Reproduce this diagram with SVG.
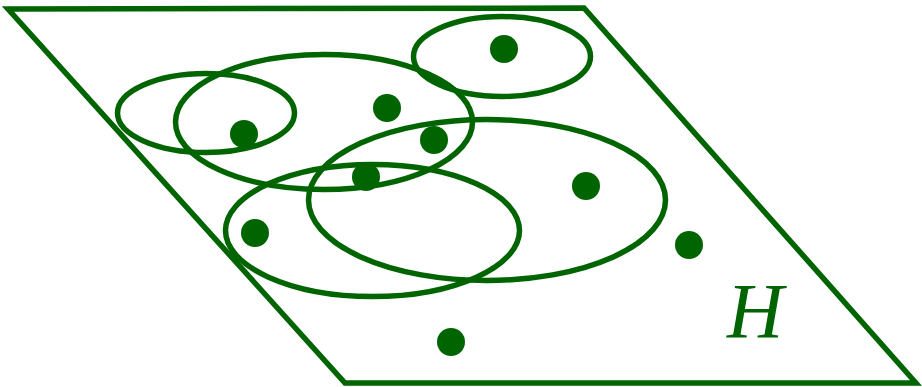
<svg xmlns="http://www.w3.org/2000/svg" width="922" height="387" viewBox="0 0 922 387">
<style>
.ln{fill:none;stroke:#006400;stroke-width:5.5;stroke-linejoin:miter}
.dot{fill:#006400}
.lbl{font-family:"Liberation Serif","DejaVu Serif",serif;font-style:italic;font-size:78px;fill:#006400}
</style>
<rect width="922" height="387" fill="#fff"/>
<g id="plane">
<polygon class="ln" points="8,9 584,8 916,383 345,383"/>
<text class="lbl" x="727" y="337">H</text>
</g>
<g id="sets">
<ellipse id="e1" class="ln" cx="206" cy="113" rx="88.5" ry="39.5"/>
<ellipse id="e2" class="ln" cx="324" cy="122" rx="148.5" ry="67.5"/>
<ellipse id="e3" class="ln" cx="502" cy="56.5" rx="88.5" ry="40"/>
<ellipse id="e4" class="ln" cx="487" cy="200" rx="178.5" ry="80.5"/>
<ellipse id="e5" class="ln" cx="372.5" cy="230.5" rx="147" ry="66"/>
</g>
<g id="points">
<circle class="dot" cx="244" cy="134" r="14"/>
<circle class="dot" cx="504" cy="49" r="14"/>
<circle class="dot" cx="387" cy="108" r="14"/>
<circle class="dot" cx="434" cy="140" r="14"/>
<circle class="dot" cx="366" cy="177" r="14"/>
<circle class="dot" cx="586" cy="186" r="14"/>
<circle class="dot" cx="255" cy="233" r="14"/>
<circle class="dot" cx="689" cy="245" r="14"/>
<circle class="dot" cx="451" cy="342" r="14"/>
</g>
</svg>
